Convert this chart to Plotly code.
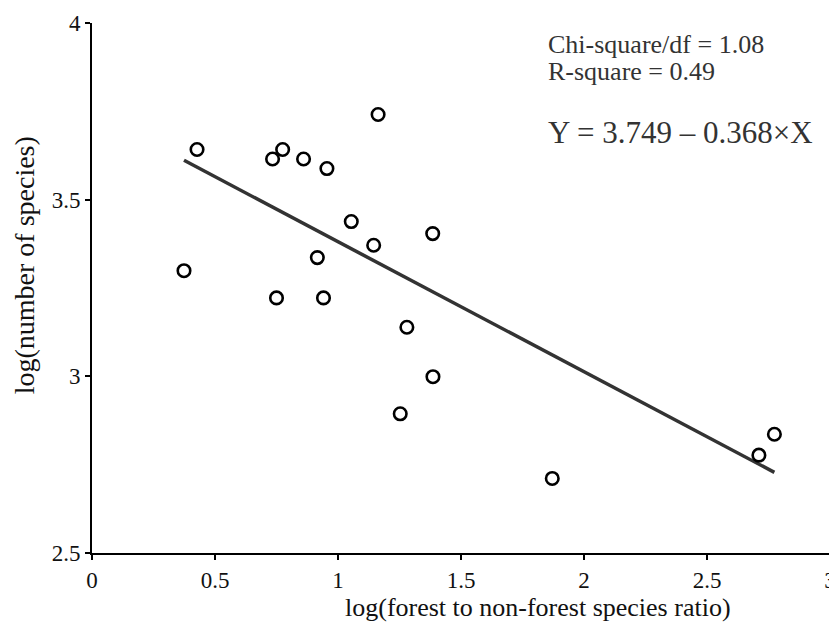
import plotly.graph_objects as go

# Data
ratio_log = [0.374, 0.427, 0.734, 0.775, 0.860, 0.955, 1.163, 1.054, 1.145, 1.385,
             0.916, 0.750, 0.941, 1.280, 1.386, 1.253, 1.871, 2.711, 2.774]
species_log = [3.299, 3.642, 3.615, 3.642, 3.615, 3.588, 3.741, 3.438, 3.371, 3.404,
               3.336, 3.222, 3.222, 3.139, 2.999, 2.894, 2.711, 2.777, 2.836]

intercept = 3.749
slope = -0.368
chi_df = 1.08
r_square = 0.49

x_ticks = [0, 0.5, 1, 1.5, 2, 2.5, 3]
x_tick_labels = ["0", "0.5", "1", "1.5", "2", "2.5", "3"]
y_ticks = [2.5, 3, 3.5, 4]
y_tick_labels = ["2.5", "3", "3.5", "4"]

FONT = "Liberation Serif, Times New Roman, serif"

x_line = [min(ratio_log), max(ratio_log)]
y_line = [intercept + slope * v for v in x_line]

fig = go.Figure()
fig.add_trace(go.Scatter(x=x_line, y=y_line, mode="lines",
                         line=dict(color="#333333", width=3.5),
                         showlegend=False, hoverinfo="skip"))
fig.add_trace(go.Scatter(x=ratio_log, y=species_log, mode="markers",
                         marker=dict(symbol="circle-open", size=12.5, color="black",
                                     line=dict(width=2.6)),
                         showlegend=False))

# page body has an 8px margin, so the figure is 8px smaller on each axis
fig.update_layout(
    template="none",
    width=829, height=614,
    margin=dict(l=84, r=7, t=15, b=69, pad=0),
    plot_bgcolor="white", paper_bgcolor="white",
    font=dict(family=FONT, color="#111111"),
    xaxis=dict(range=[0, 3], tickvals=x_ticks, ticktext=x_tick_labels,
               showline=True, linecolor="black", linewidth=2, automargin=False,
               ticks="outside", ticklen=5, tickwidth=2, tickcolor="black",
               showgrid=False, zeroline=False,
               tickfont=dict(size=23, family=FONT, color="#111111")),
    yaxis=dict(range=[2.5, 4], tickvals=y_ticks, ticktext=y_tick_labels,
               showline=True, linecolor="black", linewidth=2, automargin=False,
               ticks="outside", ticklen=5, tickwidth=2, tickcolor="black",
               showgrid=False, zeroline=False,
               tickfont=dict(size=23, family=FONT, color="#111111")),
)

annotations = [
    dict(text="log(forest to non-forest species ratio)", xref="paper", yref="paper",
         x=0.604, y=-0.102, xanchor="center", yanchor="middle", showarrow=False,
         font=dict(size=26, family=FONT, color="#111111")),
    dict(text="log(number of species)", xref="paper", yref="paper",
         x=-0.092, y=0.543, xanchor="center", yanchor="middle", textangle=-90,
         showarrow=False, font=dict(size=28, family=FONT, color="#111111")),
    dict(text=f"Chi-square/df = {chi_df:.2f}", xref="paper", yref="paper",
         x=0.615, y=0.960, xanchor="left", yanchor="middle", showarrow=False,
         font=dict(size=26, family=FONT, color="#333333")),
    dict(text=f"R-square = {r_square:.2f}", xref="paper", yref="paper",
         x=0.615, y=0.9085, xanchor="left", yanchor="middle", showarrow=False,
         font=dict(size=26, family=FONT, color="#333333")),
    dict(text=f"Y = {intercept:.3f} \u2013 {abs(slope):.3f}\u00d7X", xref="paper", yref="paper",
         x=0.615, y=0.794, xanchor="left", yanchor="middle", showarrow=False,
         font=dict(size=31, family=FONT, color="#333333")),
]
fig.update_layout(annotations=annotations)

fig.write_html("out.html")
